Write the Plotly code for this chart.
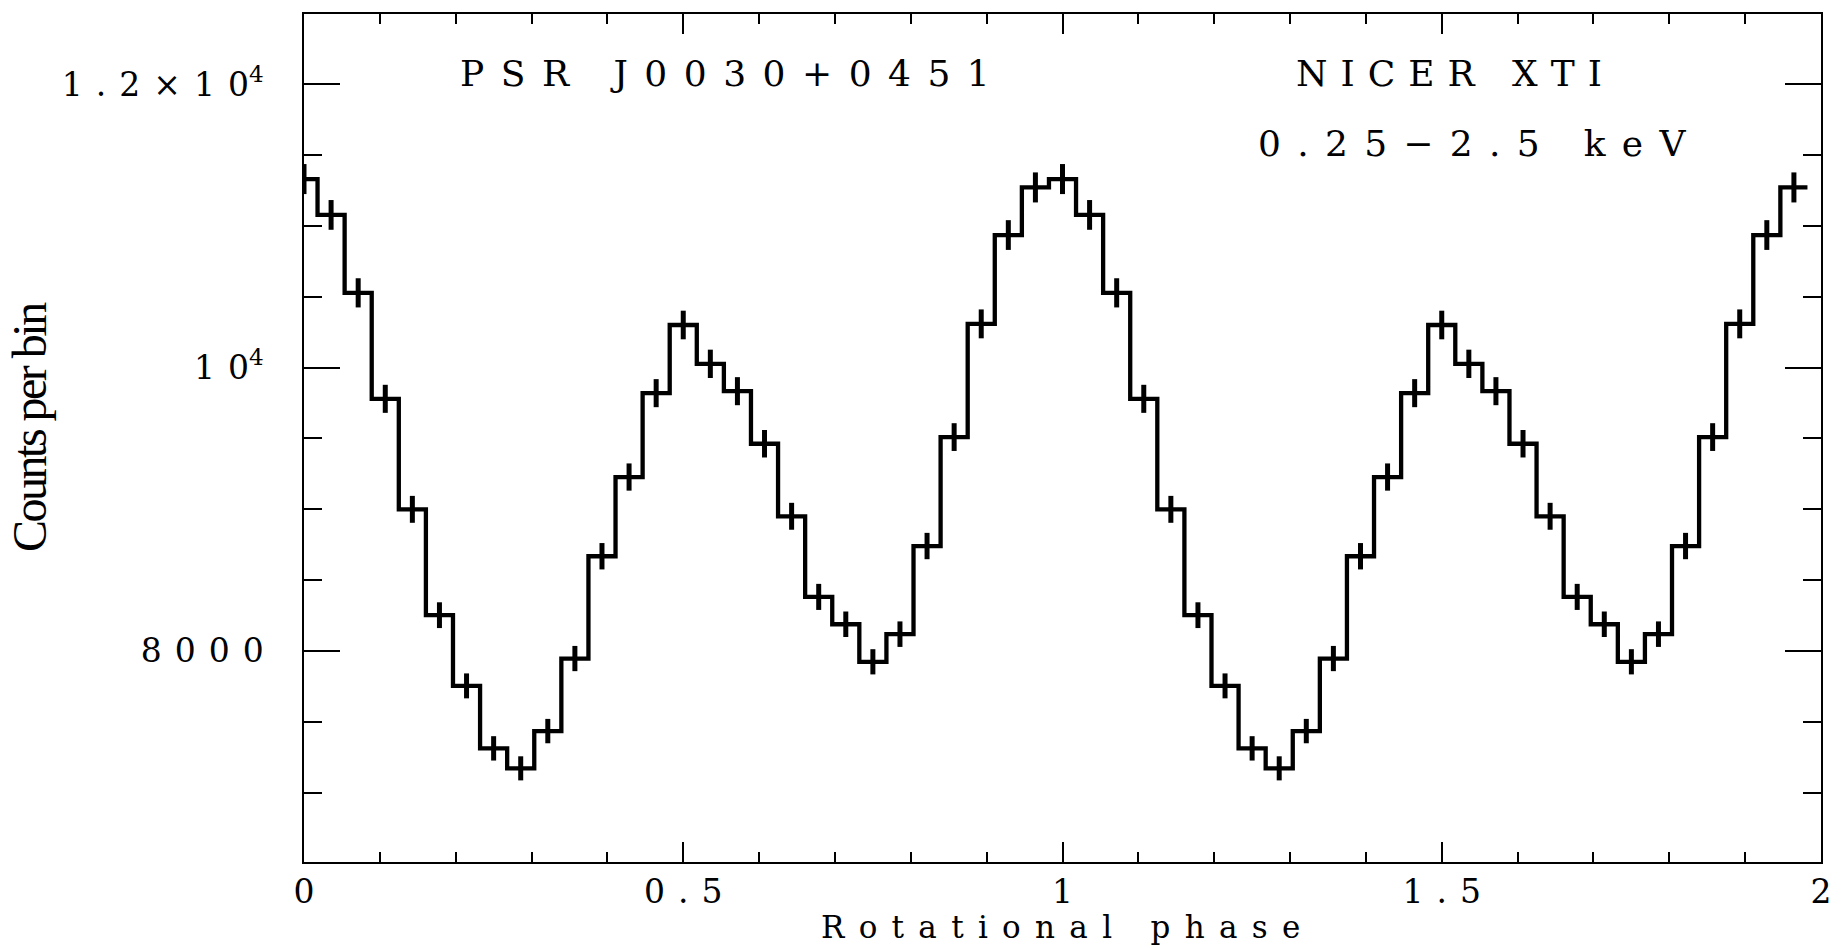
import numpy as np
import plotly.graph_objects as go

# ---- data: pulse profile, 28 phase bins per rotation (shown twice) ----
N_BINS = 28
counts = [11330, 11077, 10527, 9779, 8999, 8252, 7753, 7312, 7171, 7434,
          7946, 8668, 9227, 9819, 10300, 10026, 9833, 9462, 8950, 8381,
          8188, 7923, 8118, 8740, 9509, 10308, 10935, 11271]
errors = [106, 105, 103, 99, 95, 91, 88, 86, 85, 86,
          89, 93, 96, 99, 101, 100, 99, 97, 95, 92,
          90, 89, 90, 93, 98, 102, 105, 106]
N_CYCLES = 2

x_ticks = [0, 0.5, 1, 1.5, 2]
x_tick_labels = ["0", "0.5", "1", "1.5", "2"]
y_ticks = [8000, 10000, 12000]

FONT = "DejaVu Serif"


def spaced(s, px):
    return f"<span style='letter-spacing:{px}px'>{s[:-1]}</span>{s[-1]}"


TICK_SP = 13
y_tick_labels = [
    spaced("8000", TICK_SP),
    f"<span style='letter-spacing:{TICK_SP}px'>1</span>0<sup>4</sup>",
    f"<span style='letter-spacing:{TICK_SP}px'>1.2×1</span>0<sup>4</sup>",
]

# bin centres and edges
y_vals = np.array(counts * N_CYCLES, dtype=float)
y_err = np.array(errors * N_CYCLES, dtype=float)
n = len(y_vals)
centers = np.arange(n) / N_BINS
edges = (np.arange(n + 1) - 0.5) / N_BINS
y_step = np.append(y_vals, y_vals[-1])

fig = go.Figure()
fig.add_trace(go.Scatter(
    x=edges, y=y_step, mode="lines", line=dict(shape="hv", color="black", width=4.3),
    hoverinfo="skip", showlegend=False))
fig.add_trace(go.Scatter(
    x=centers, y=y_vals, mode="markers", marker=dict(size=0.1, color="black"),
    error_y=dict(type="data", array=y_err, visible=True, color="black",
                 thickness=5, width=0),
    showlegend=False, cliponaxis=False))

axis_common = dict(
    showline=True, linecolor="black", linewidth=1.5, mirror="allticks",
    ticks="inside", tickcolor="black", tickwidth=1.5,
    showgrid=False, zeroline=False,
    tickfont=dict(family=FONT, size=33, color="black"),
)

fig.update_xaxes(
    **axis_common, range=[0, 2], tickmode="array", tickvals=x_ticks,
    ticktext=[spaced(t, TICK_SP) if len(t) > 1 else t for t in x_tick_labels],
    ticklen=20, ticklabelstandoff=0,
    minor=dict(tickmode="linear", tick0=0, dtick=0.1, ticks="inside",
               ticklen=10, tickwidth=1.5, tickcolor="black", showgrid=False),
)
fig.update_yaxes(
    **axis_common, range=[6510, 12495], tickmode="array", tickvals=y_ticks,
    ticktext=y_tick_labels, ticklen=36, ticklabelstandoff=32,
    minor=dict(tickmode="linear", tick0=0, dtick=500, ticks="inside",
               ticklen=18, tickwidth=1.5, tickcolor="black", showgrid=False),
)

ann_font = dict(family=FONT, size=36, color="black")
annotations = [
    dict(text=spaced("PSR J0030+0451", 16.5), x=0.1014, y=0.930,
         xanchor="left", yanchor="middle", font=ann_font),
    dict(text=spaced("NICER XTI", 13), x=0.6524, y=0.930,
         xanchor="left", yanchor="middle", font=ann_font),
    dict(text=spaced("0.25−2.5 keV", 16.3), x=0.6278, y=0.847,
         xanchor="left", yanchor="middle", font=ann_font),
    dict(text=spaced("Rotational phase", 14.3), x=0.4984, y=-0.077,
         xanchor="center", yanchor="middle",
         font=dict(family=FONT, size=31, color="black")),
    dict(text=spaced("Counts per bin", -2.5), x=-0.181, y=0.5135,
         textangle=-90, xanchor="center", yanchor="middle",
         font=dict(family="Liberation Serif", size=48, color="black")),
]
for a in annotations:
    a.update(xref="paper", yref="paper", showarrow=False)

fig.update_layout(
    width=1844, height=948,
    margin=dict(l=304, r=21, t=13, b=86),
    paper_bgcolor="white", plot_bgcolor="white",
    annotations=annotations,
    showlegend=False,
)

fig.write_html(
    "out.html",
    config={"displayModeBar": False},
    post_script="document.body.style.margin='0';document.body.style.overflow='hidden';",
)
